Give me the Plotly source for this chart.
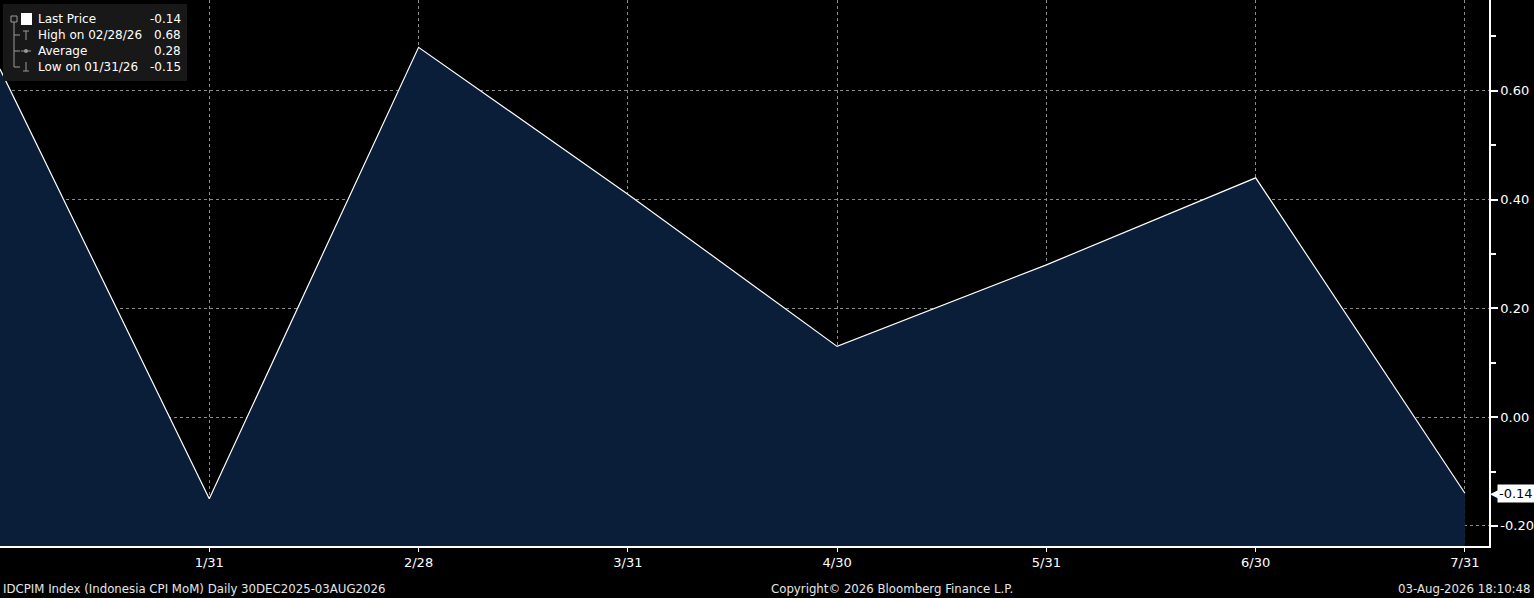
import plotly.graph_objects as go

# monthly readings, Indonesia CPI MoM
months = ["12/31", "1/31", "2/28", "3/31", "4/30", "5/31", "6/30", "7/31"]
cpi_mom = [0.64, -0.15, 0.68, 0.41, 0.13, 0.28, 0.44, -0.14]
y_ticks = [-0.20, 0.00, 0.20, 0.40, 0.60]
avg_label = "0.28"
high_date = "02/28/26"
low_date = "01/31/26"

W, H = 1534, 598
L, R, T, B = 0, 45, 0, 52
pw, ph = W - L - R, H - T - B

def px(x):
    return x / pw

def py(y):
    return (ph - y) / ph

x_idx = list(range(len(months)))
y_lo, y_hi = -0.237, 0.767

fig = go.Figure()

# invisible floor so the area fills down to the bottom of the axis
fig.add_trace(go.Scatter(x=x_idx, y=[y_lo] * len(x_idx), mode="lines",
                         line=dict(width=0), hoverinfo="skip", showlegend=False))
fig.add_trace(go.Scatter(x=x_idx, y=cpi_mom, mode="lines", fill="tonexty",
                         fillcolor="#0a1e3a", line=dict(color="#ffffff", width=1.2),
                         showlegend=False))

grid = dict(showgrid=True, gridcolor="#8a8a8a", gridwidth=1, griddash="dot")
tick_font = dict(color="#ffffff", size=13, family="DejaVu Sans")

fig.update_xaxes(range=[0, 7.115], tickvals=x_idx[1:], ticktext=months[1:],
                 showline=True, linecolor="#ffffff", linewidth=1.5,
                 ticks="outside", ticklen=4, tickcolor="#ffffff",
                 tickfont=tick_font, zeroline=False, **grid)
fig.update_yaxes(range=[y_lo, y_hi], side="right", tickvals=y_ticks,
                 ticktext=["%.2f" % v for v in y_ticks],
                 showline=True, linecolor="#ffffff", linewidth=1.5,
                 ticks="outside", ticklen=7, tickwidth=2, tickcolor="#ffffff",
                 minor=dict(dtick=0.1, tick0=0, ticks="outside", ticklen=5,
                            tickcolor="#ffffff", showgrid=False),
                 tickfont=tick_font, zeroline=False, **grid)

shapes = []
annotations = []

# legend panel
shapes.append(dict(type="rect", xref="paper", yref="paper", x0=px(3), x1=px(187),
                   y0=py(81), y1=py(4), fillcolor="#181818", line=dict(width=0),
                   layer="above"))
shapes.append(dict(type="rect", xref="paper", yref="paper", x0=px(21), x1=px(32),
                   y0=py(25), y1=py(13), fillcolor="#ffffff", line=dict(width=0),
                   layer="above"))
# tree lines
tree = "#9a9a9a"
shapes.append(dict(type="rect", xref="paper", yref="paper", x0=px(11), x1=px(17),
                   y0=py(22), y1=py(16), line=dict(color=tree, width=1), layer="above"))
shapes.append(dict(type="line", xref="paper", yref="paper", x0=px(14), x1=px(14),
                   y0=py(22), y1=py(67), line=dict(color=tree, width=1), layer="above"))
for yy in (35, 51, 67):
    shapes.append(dict(type="line", xref="paper", yref="paper", x0=px(14), x1=px(20),
                       y0=py(yy), y1=py(yy), line=dict(color=tree, width=1), layer="above"))
shapes.append(dict(type="line", xref="paper", yref="paper", x0=px(26), x1=px(26),
                   y0=py(31), y1=py(40), line=dict(color=tree, width=1), layer="above"))
shapes.append(dict(type="line", xref="paper", yref="paper", x0=px(23), x1=px(29),
                   y0=py(31), y1=py(31), line=dict(color=tree, width=1), layer="above"))
shapes.append(dict(type="line", xref="paper", yref="paper", x0=px(21), x1=px(31),
                   y0=py(51), y1=py(51), line=dict(color=tree, width=1), layer="above"))
shapes.append(dict(type="circle", xref="paper", yref="paper", x0=px(24), x1=px(28),
                   y0=py(53), y1=py(49), fillcolor=tree, line=dict(width=0), layer="above"))
shapes.append(dict(type="line", xref="paper", yref="paper", x0=px(26), x1=px(26),
                   y0=py(62), y1=py(71), line=dict(color=tree, width=1), layer="above"))
shapes.append(dict(type="line", xref="paper", yref="paper", x0=px(23), x1=px(29),
                   y0=py(71), y1=py(71), line=dict(color=tree, width=1), layer="above"))

leg_font = dict(color="#ffffff", size=12, family="DejaVu Sans")
rows = [
    ("Last Price", "%.2f" % cpi_mom[-1]),
    ("High on " + high_date, "%.2f" % max(cpi_mom)),
    ("Average", avg_label),
    ("Low on " + low_date, "%.2f" % min(cpi_mom)),
]
for i, (name, val) in enumerate(rows):
    yy = 19 + 16 * i
    annotations.append(dict(xref="paper", yref="paper", x=px(36), y=py(yy),
                            xanchor="left", yanchor="middle", text=name,
                            showarrow=False, font=leg_font))
    annotations.append(dict(xref="paper", yref="paper", x=px(183), y=py(yy),
                            xanchor="right", yanchor="middle", text=val,
                            showarrow=False, font=leg_font))

# last price tag on the right axis: pointer first, label box on top of it
annotations.append(dict(xref="paper", yref="y", x=1, y=cpi_mom[-1], xanchor="left",
                        yanchor="middle", xshift=-1, text="◀", showarrow=False,
                        font=dict(color="#ffffff", size=14, family="DejaVu Sans")))
annotations.append(dict(xref="paper", yref="y", x=1, y=cpi_mom[-1], xanchor="left",
                        yanchor="middle", xshift=8, text="%.2f" % cpi_mom[-1],
                        showarrow=False, bgcolor="#ffffff", borderpad=1,
                        font=dict(color="#000000", size=13, family="DejaVu Sans")))

# footer
foot = dict(color="#e6e6e6", size=11.75, family="DejaVu Sans")
annotations.append(dict(xref="paper", yref="paper", x=px(1), y=py(589), xanchor="left",
                        yanchor="middle", showarrow=False, font=foot,
                        text="IDCPIM Index (Indonesia CPI MoM) Daily 30DEC2025-03AUG2026"))
annotations.append(dict(xref="paper", yref="paper", x=px(892), y=py(589), xanchor="center",
                        yanchor="middle", showarrow=False, font=foot,
                        text="Copyright© 2026 Bloomberg Finance L.P."))
annotations.append(dict(xref="paper", yref="paper", x=px(1533), y=py(589), xanchor="right",
                        yanchor="middle", showarrow=False, font=foot,
                        text="03-Aug-2026 18:10:48"))

fig.update_layout(width=W, height=H, margin=dict(l=L, r=R, t=T, b=B),
                  paper_bgcolor="#000000", plot_bgcolor="#000000",
                  shapes=shapes, annotations=annotations, showlegend=False)

# drop the page's default body margin so the figure sits at the window corner
fig.write_html("out.html", config={"displayModeBar": False},
               post_script="document.body.style.margin='0';")
